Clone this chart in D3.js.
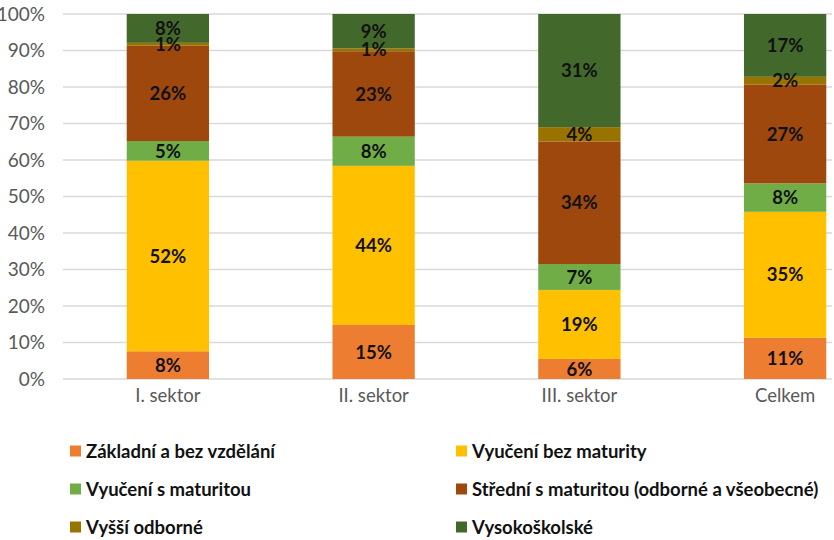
<!DOCTYPE html>
<html>
<head>
<meta charset="utf-8">
<script src="https://cdn.jsdelivr.net/npm/d3@7"></script>
<style>
  body { margin: 0; background: #fff; }
  svg { display: block; font-family: Lato, "Open Sans", sans-serif; }
</style>
</head>
<body>
<div id="chart"></div>
<script>
const categories = ['I. sektor', 'II. sektor', 'III. sektor', 'Celkem'];
const seriesNames = [
    'Základní a bez vzdělání',
    'Vyučení bez maturity',
    'Vyučení s maturitou',
    'Střední s maturitou (odborné a všeobecné)',
    'Vyšší odborné',
    'Vysokoškolské'
];
const seriesColors = ['#ED7D31', '#FFC000', '#70AD47', '#9E480E', '#997300', '#43682B'];

// shares in %, per category
const zakladni  = [7.6, 14.8, 5.5, 11.3];
const vyucBez   = [52.2, 43.6, 18.9, 34.5];
const vyucS     = [5.4, 8.0, 7.1, 7.8];
const stredni   = [26.1, 23.4, 33.6, 27.1];
const vyssi     = [0.8, 0.8, 3.9, 2.1];
const vysoko    = [7.9, 9.4, 31.0, 17.2];

const seriesValues = [zakladni, vyucBez, vyucS, stredni, vyssi, vysoko];
const yTicks = [0, 10, 20, 30, 40, 50, 60, 70, 80, 90, 100];

const W = 834, H = 540;
const plot = { left: 63, right: 832, top: 14, bottom: 379 };

const svg = d3.select('#chart').append('svg')
    .attr('width', W)
    .attr('height', H);

/* table for the stack */
const rows = categories.map((c, i) => {
    const r = { cat: c };
    seriesNames.forEach((s, j) => r[s] = seriesValues[j][i]);
    return r;
});

const stacked = d3.stack().keys(seriesNames)(rows);

const x = d3.scaleBand()
    .domain(categories)
    .range([65, 888])
    .paddingInner(0.6)
    .paddingOuter(0.3);

const y = d3.scaleLinear()
    .domain([0, 100])
    .range([plot.bottom, plot.top]);

/* grid */
svg.append('g').selectAll('line')
    .data(yTicks)
    .join('line')
    .attr('x1', plot.left)
    .attr('x2', plot.right)
    .attr('y1', d => y(d))
    .attr('y2', d => y(d))
    .attr('stroke', '#d9d9d9')
    .attr('stroke-width', 1.3);

/* y axis labels */
const yAxis = svg.append('g')
    .attr('transform', 'translate(45,0)')
    .call(d3.axisLeft(y).tickValues(yTicks).tickFormat(d => d + '%').tickSize(0).tickPadding(0));
yAxis.select('.domain').remove();
yAxis.selectAll('.tick text')
    .attr('fill', '#595959')
    .style('font-size', '19px')
    .style('font-family', 'Lato, sans-serif');

/* bars */
const layers = svg.append('g').selectAll('g')
    .data(stacked)
    .join('g')
    .attr('fill', (d, i) => seriesColors[i]);

layers.selectAll('rect')
    .data(d => d)
    .join('rect')
    .attr('x', d => x(d.data.cat))
    .attr('width', x.bandwidth())
    .attr('y', d => y(d[1]))
    .attr('height', d => y(d[0]) - y(d[1]));

/* value labels */
const labels = svg.append('g').selectAll('g')
    .data(stacked)
    .join('g');

labels.selectAll('text')
    .data(d => d.map(p => ({ p, key: d.key })))
    .join('text')
    .attr('x', d => x(d.p.data.cat) + x.bandwidth() / 2)
    .attr('y', d => y((d.p[0] + d.p[1]) / 2))
    .attr('dy', '0.36em')
    .attr('text-anchor', 'middle')
    .style('font-size', '18.5px')
    .style('font-weight', 'bold')
    .attr('fill', '#111')
    .text(d => Math.round(d.p.data[d.key]) + '%');

/* x axis labels */
const xAxis = svg.append('g')
    .attr('transform', `translate(0,${plot.bottom})`)
    .call(d3.axisBottom(x).tickSize(0).tickPadding(20));
xAxis.select('.domain').remove();
xAxis.selectAll('.tick text')
    .attr('fill', '#595959')
    .attr('dy', '0.15em')
    .style('font-size', '18.5px')
    .style('font-family', 'Lato, sans-serif');

/* legend */
const legendPos = [
    [70, 451], [456, 451],
    [70, 489], [456, 489],
    [70, 527], [456, 527]
];
const legend = svg.append('g').selectAll('g')
    .data(seriesNames)
    .join('g')
    .attr('transform', (d, i) => `translate(${legendPos[i][0]},${legendPos[i][1]})`);

legend.append('rect')
    .attr('x', 0)
    .attr('y', -5.5)
    .attr('width', 11)
    .attr('height', 11)
    .attr('fill', (d, i) => seriesColors[i]);

legend.append('text')
    .attr('x', 16)
    .attr('dy', '0.36em')
    .style('font-size', '18.5px')
    .style('font-weight', 'bold')
    .attr('fill', '#111')
    .text(d => d);
</script>
</body>
</html>
